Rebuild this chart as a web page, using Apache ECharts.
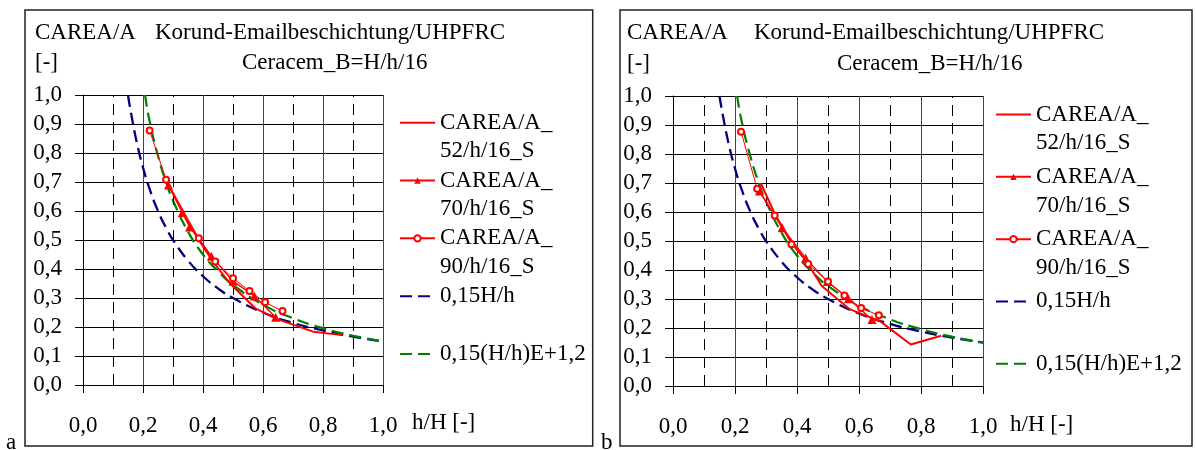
<!DOCTYPE html>
<html><head><meta charset="utf-8">
<script src="https://cdn.jsdelivr.net/npm/echarts@6/dist/echarts.min.js"></script>
<style>html,body{margin:0;padding:0;background:#fff}#c{width:1196px;height:450px}</style>
</head><body><div id="c"></div>
<script>
// ---- data ----
const xTickLabels = ['0,0','0,2','0,4','0,6','0,8','1,0'];
const yTickLabels = ['0,0','0,1','0,2','0,3','0,4','0,5','0,6','0,7','0,8','0,9','1,0'];
const dashedX = [0.1, 0.3, 0.5, 0.7, 0.9];
const seriesNames = ['CAREA/A_52/h/16_S','CAREA/A_70/h/16_S','CAREA/A_90/h/16_S','0,15H/h','0,15(H/h)E+1,2'];
const legendLabels = ['CAREA/A_\n52/h/16_S','CAREA/A_\n70/h/16_S','CAREA/A_\n90/h/16_S','0,15H/h\n ','0,15(H/h)E+1,2\n '];

const s52a = [[0.28,0.70],[0.335,0.59],[0.38,0.51],[0.43,0.43],[0.49,0.35],[0.575,0.264],[0.645,0.228],[0.767,0.184],[0.865,0.172]];
const s70a = [[0.285,0.69],[0.331,0.595],[0.355,0.545],[0.428,0.444],[0.50,0.358],[0.571,0.307],[0.642,0.234]];
const s90a = [[0.222,0.878],[0.277,0.708],[0.386,0.506],[0.441,0.426],[0.50,0.368],[0.555,0.324],[0.607,0.285],[0.665,0.255]];

const s52b = [[0.283,0.70],[0.33,0.59],[0.38,0.50],[0.43,0.43],[0.48,0.345],[0.57,0.265],[0.67,0.222],[0.767,0.143],[0.865,0.173]];
const s70b = [[0.279,0.672],[0.352,0.546],[0.428,0.441],[0.498,0.36],[0.566,0.301],[0.642,0.229]];
const s90b = [[0.2195,0.877],[0.2715,0.68],[0.328,0.588],[0.382,0.489],[0.436,0.421],[0.50,0.36],[0.553,0.312],[0.607,0.269],[0.664,0.244]];

const navy = [[0.15,1.0],[0.16,0.938],[0.18,0.833],[0.2,0.75],[0.22,0.682],[0.25,0.6],[0.28,0.536],[0.3,0.5],[0.35,0.429],[0.4,0.375],[0.45,0.333],[0.5,0.3],[0.6,0.25],[0.7,0.214],[0.8,0.188],[0.9,0.167],[1.0,0.15]];
const green = [[0.207,1.0],[0.22,0.92],[0.25,0.79],[0.28,0.69],[0.3,0.636],[0.35,0.529],[0.4,0.45],[0.45,0.392],[0.5,0.345],[0.6,0.277],[0.7,0.23],[0.8,0.196],[0.9,0.17],[1.0,0.15]];

// ---- chart ----
const FONT = 'Liberation Serif';
const FS = 23;
const chart = echarts.init(document.getElementById('c'), null, {renderer:'canvas'});

function xAxis(gi){
  return {gridIndex:gi, type:'value', min:0, max:1, interval:0.2,
    axisLine:{show:true, lineStyle:{color:'#000', width:1}},
    axisTick:{show:true, length:8, lineStyle:{color:'#000'}},
    axisLabel:{margin:29, color:'#000', fontFamily:FONT, fontSize:FS,
      formatter:v=>xTickLabels[Math.round(v/0.2)]},
    splitLine:{show:true, lineStyle:{color:'#444', width:1}}};
}
function yAxis(gi){
  return {gridIndex:gi, type:'value', min:0, max:1, interval:0.1,
    axisLine:{show:true, lineStyle:{color:'#000', width:1}},
    axisTick:{show:true, length:8, lineStyle:{color:'#000'}},
    axisLabel:{margin:21, color:'#000', fontFamily:FONT, fontSize:FS,
      formatter:v=>yTickLabels[Math.round(v/0.1)]},
    splitLine:{show:true, lineStyle:{color:'#000', width:1}}};
}
function makeSeries(gi, d52, d70, d90){
  return [
    {name:seriesNames[0], type:'line', xAxisIndex:gi, yAxisIndex:gi, data:d52, symbol:'none',
     lineStyle:{color:'#ff0000', width:2}, itemStyle:{color:'#ff0000'}, z:5,
     markLine:{silent:true, symbol:['none','none'], label:{show:false}, animation:false,
       lineStyle:{color:'#000', type:[11,7], width:1}, data:dashedX.map(v=>({xAxis:v}))}},
    {name:seriesNames[1], type:'line', xAxisIndex:gi, yAxisIndex:gi, data:d70, symbol:'triangle', symbolSize:9,
     lineStyle:{color:'#ff0000', width:1.4}, itemStyle:{color:'#ff0000'}, z:6},
    {name:seriesNames[2], type:'line', xAxisIndex:gi, yAxisIndex:gi, data:d90, symbol:'emptyCircle', symbolSize:6,
     lineStyle:{color:'#ff0000', width:1}, itemStyle:{color:'#ff0000', borderColor:'#ff0000', borderWidth:1}, z:7},
    {name:seriesNames[3], type:'line', xAxisIndex:gi, yAxisIndex:gi, data:navy, symbol:'none', smooth:true,
     lineStyle:{color:'#000080', width:2.3, type:[12,6]}, itemStyle:{color:'#000080'}, z:3},
    {name:seriesNames[4], type:'line', xAxisIndex:gi, yAxisIndex:gi, data:green, symbol:'none', smooth:true,
     lineStyle:{color:'#008000', width:2.2, type:[12,6]}, itemStyle:{color:'#008000'}, z:4}
  ];
}
function legendData(){
  return seriesNames.map((n,i)=> (i===1||i===2) ? {name:n} : {name:n, itemStyle:{opacity:0}});
}
function makeLegend(left, top, gap, lh){
  return {show:true, orient:'vertical', left:left, top:top, padding:0, itemGap:gap,
    itemWidth:35, itemHeight:8, selectedMode:false, data:legendData(),
    formatter:name=>'\n'+legendLabels[seriesNames.indexOf(name)],
    textStyle:{fontFamily:FONT, fontSize:FS, color:'#000', lineHeight:lh}};
}
function txt(x, y, s, align){
  return {type:'text', x:x, y:y, silent:true, style:{text:s, x:0, y:0, fill:'#000',
    font:FS+'px "'+FONT+'"', textAlign:align||'left', textVerticalAlign:'middle', align:align||'left', verticalAlign:'middle'}};
}

const option = {
  animation:false,
  backgroundColor:'#fff',
  grid:[
    {left:83, top:95, width:300, height:290, containLabel:false, outerBoundsMode:'none'},
    {left:673, top:96, width:310, height:290, containLabel:false, outerBoundsMode:'none'}
  ],
  xAxis:[xAxis(0), xAxis(1)],
  yAxis:[yAxis(0), yAxis(1)],
  legend:[ makeLegend(399, 80, -27.7, 28.5), makeLegend(995, 71.5, -23.8, 28.7) ],
  series:[].concat(makeSeries(0, s52a, s70a, s90a), makeSeries(1, s52b, s70b, s90b)),
  graphic:[
    {type:'rect', silent:true, shape:{x:25, y:10, width:567.7, height:436}, style:{fill:'none', stroke:'#222', lineWidth:1.5}},
    {type:'rect', silent:true, shape:{x:620, y:10, width:572, height:436}, style:{fill:'none', stroke:'#222', lineWidth:1.5}},
    txt(35, 32.6, 'CAREA/A'),
    txt(155, 32.6, 'Korund-Emailbeschichtung/UHPFRC'),
    txt(35, 62.5, '[-]'),
    txt(242, 62.5, 'Ceracem_B=H/h/16'),
    txt(412, 423, 'h/H [-]'),
    txt(6, 442.6, 'a'),
    txt(627, 33.3, 'CAREA/A'),
    txt(754, 33.3, 'Korund-Emailbeschichtung/UHPFRC'),
    txt(627, 63.5, '[-]'),
    txt(837, 63.5, 'Ceracem_B=H/h/16'),
    txt(1010, 425, 'h/H [-]'),
    txt(601, 442.6, 'b')
  ]
};
chart.setOption(option);
</script></body></html>
